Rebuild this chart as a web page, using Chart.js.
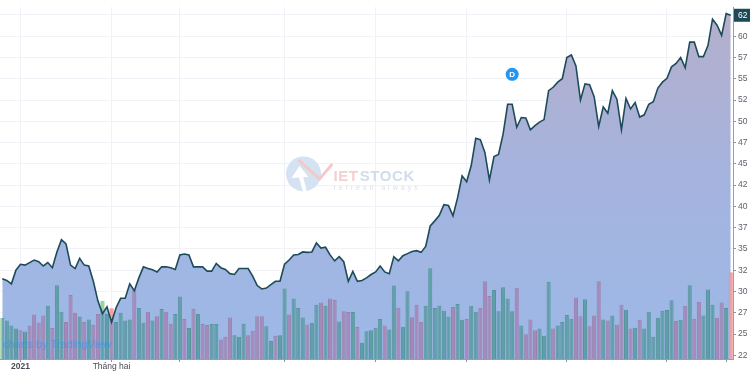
<!DOCTYPE html>
<html>
<head>
<meta charset="utf-8">
<script src="https://cdn.jsdelivr.net/npm/chart.js@4.4.0/dist/chart.umd.min.js"></script>
<style>
html,body{margin:0;padding:0;background:#fff;}
#wrap{width:750px;height:375px;position:relative;}
</style>
</head>
<body>
<div id="wrap"><canvas id="c" width="750" height="375"></canvas></div>
<script>
// ---- data ----
const price = [
 31.5,31.3,30.9,32.5,33.2,33.1,33.4,33.7,33.5,33.0,
 33.4,32.8,34.65,36.1,35.6,33.1,32.7,33.9,33.1,33.0,
 31.2,28.9,27.4,28.2,26.4,28.1,29.2,29.2,30.9,30.1,
 31.6,32.9,32.7,32.55,32.3,32.9,32.9,32.8,32.6,34.3,
 34.4,34.3,32.9,32.9,32.9,32.4,32.4,33.3,32.8,32.6,
 32.1,32.0,32.7,32.7,32.7,31.8,30.7,30.3,30.4,30.8,
 31.2,31.2,33.2,33.7,34.3,34.35,34.65,34.6,34.65,35.7,
 35.1,35.2,34.3,33.6,34.1,33.5,31.2,32.35,31.2,31.3,
 31.6,32.0,32.3,33.0,32.3,32.1,34.1,33.6,34.2,34.45,
 34.7,34.8,34.6,35.3,37.7,38.3,38.95,40.2,40.1,38.9,
 41.0,43.6,42.9,44.8,48.0,47.85,46.35,43.1,45.85,46.1,
 48.5,52.0,52.0,49.3,50.45,50.4,49.0,49.5,49.9,50.2,
 53.6,54.0,54.6,55.0,57.5,57.8,56.5,52.5,54.4,54.3,
 52.9,49.4,51.7,50.95,53.6,52.6,49.0,52.7,51.45,52.2,
 50.5,50.76,52.0,52.3,53.9,54.6,55.05,56.4,56.8,57.5,
 56.3,59.3,59.3,57.6,57.6,58.9,62.0,61.3,60.1,62.65,
 62.46
];
const volume = [
 41.7,39.3,34.3,31,29.3,28,34.3,45.3,37.3,44.3,
 54.3,31.7,75.3,48.3,37.7,65.3,47.3,43.3,37.7,40.3,
 35,46,59.3,46,51.7,37.7,47.3,39.3,40.3,71,
 52,37,48.3,39.3,43.7,51,48.3,36,46,63.7,
 40.7,31.7,51.3,46,35.7,34.7,35.7,35.7,20,22.7,
 42.3,24.3,22.7,36,24.3,28.7,43.7,43.7,33.3,18.3,
 23.7,24.3,72,45.3,61.7,52,42.3,35.3,37,55.3,
 57.7,54.3,61.7,60.3,38.3,48.7,48,48,32.7,16.7,
 28.3,29.3,32,40.7,34.3,30,75,52.3,33,69,
 42.7,55.3,37.7,54.3,92.7,52,54.3,49.3,43.3,53,
 56,40,40.7,54.3,48.3,52.3,79.3,64.3,70.3,48.7,
 73.3,61.7,48.7,72.7,34.3,25.3,40.3,29.3,31,23.7,
 78.7,31,34.3,37.7,45,41,62.7,43.7,61,33.3,
 44.3,79.3,40.3,39.3,44.3,35.3,55.3,50.3,31,32,
 40,31,48.3,22.7,42,49.3,50,60,38.7,40,
 54.3,75.3,41,58.3,44.3,71,55.3,42,57.7,52,
 88.3
];
// 1 = up session, 0 = down session
const volumeUp = [
 1,1,1,1,0,1,0,0,0,0,
 1,0,1,1,0,0,0,1,0,1,
 0,0,1,1,0,1,1,1,1,0,
 1,1,0,1,0,1,0,0,1,1,
 0,1,0,1,0,0,1,1,0,0,
 0,1,1,1,0,0,0,0,1,1,
 0,1,1,0,1,1,1,0,1,1,
 0,1,0,0,1,0,0,1,0,1,
 1,1,1,1,0,1,1,0,1,1,
 0,0,0,1,1,1,1,1,1,0,
 1,1,0,1,1,0,0,0,1,1,
 1,1,1,0,1,0,0,0,1,1,
 1,0,1,1,1,1,0,0,1,0,
 0,0,1,0,1,0,0,1,0,1,
 0,1,1,1,1,1,1,1,0,1,
 0,1,0,0,1,1,1,0,0,1,
 0
];
const sessions = price.map((_, i) => String(i + 1));
const monthTickIdx = [4, 24, 39, 62, 82, 102, 124, 146, 159];
const monthTickLabels = ['2021', 'Tháng hai', '', '', '', '', '', '', ''];
const priceTickValues = [22.5,25,27.5,30,32.5,35,37.5,40,42.5,45,47.5,50,52.5,55,57.5,60,62.5];
const priceTickLabels = ['22','25','27','30','32','35','37','40','42','45','47','50','52','55','57','60','62'];
const priceMin = 22.07, priceMax = 63.42;
const volumeMax = 359;
const dividendIdx = [112];
const dividendLabel = ['D'];

// ---- styles ----
const FONT = '"Liberation Sans", Arial, sans-serif';
const upInArea = '#5f9fa7', downInArea = '#a489b9';
const upAbove = '#9fd2a0', downAbove = '#f4a0a0';
const lastIdx = price.length - 1;
const topBarColors = volumeUp.map((u, i) => i === lastIdx ? downAbove : (u ? upInArea : downInArea));
const topBarBorders = volumeUp.map((u, i) => i === lastIdx ? '#ec8f8f' : (u ? '#56949c' : '#9a80ad'));
const tipBarColors = volumeUp.map(u => u ? upAbove : downAbove);

const areaClip = {
  id: 'areaClip',
  beforeDatasetDraw(chart, args) {
    if (args.index !== 2) return;
    const pts = chart.getDatasetMeta(1).data;
    const b = chart.chartArea.bottom;
    const ctx = chart.ctx;
    ctx.save();
    ctx.beginPath();
    ctx.moveTo(pts[0].x, b);
    pts.forEach(p => ctx.lineTo(p.x, p.y));
    ctx.lineTo(pts[pts.length - 1].x, b);
    ctx.closePath();
    ctx.clip();
  },
  afterDatasetDraw(chart, args) {
    if (args.index !== 2) return;
    chart.ctx.restore();
  }
};

const decor = {
  id: 'decor',
  beforeDatasetsDraw(chart) {
    const ctx = chart.ctx, ca = chart.chartArea;
    const cx = (ca.left + ca.right) / 2, cy = ca.top + ca.height * 0.474;
    ctx.save();
    // watermark logo
    const lx = cx - 63, ly = cy;
    ctx.fillStyle = '#d4e2f1';
    ctx.beginPath(); ctx.arc(lx, ly, 17.5, 0, Math.PI * 2); ctx.fill();
    ctx.strokeStyle = '#ffffff'; ctx.lineWidth = 4; ctx.lineCap = 'round';
    ctx.beginPath(); ctx.moveTo(lx + 1, ly + 16); ctx.lineTo(lx - 3, ly + 1); ctx.stroke();
    ctx.fillStyle = '#ffffff';
    ctx.beginPath(); ctx.moveTo(lx - 12, ly + 4); ctx.lineTo(lx - 4, ly - 8); ctx.lineTo(lx + 5, ly + 3); ctx.closePath(); ctx.fill();
    ctx.strokeStyle = '#f3c9c9'; ctx.lineWidth = 3;
    ctx.beginPath(); ctx.moveTo(lx - 4, ly - 13); ctx.lineTo(lx + 16, ly + 5); ctx.lineTo(lx + 28, ly - 9); ctx.stroke();
    ctx.textBaseline = 'alphabetic';
    ctx.font = 'bold 15px ' + FONT;
    try { ctx.letterSpacing = '0.6px'; } catch (e) {}
    ctx.fillStyle = '#f4cfcf';
    ctx.fillText('IET', lx + 30, ly + 7);
    const w1 = ctx.measureText('IET').width;
    ctx.fillStyle = '#d0ddec';
    ctx.fillText('STOCK', lx + 31 + w1, ly + 7);
    ctx.font = '7px ' + FONT;
    try { ctx.letterSpacing = '3px'; } catch (e) {}
    ctx.fillStyle = '#dbe2ea';
    ctx.fillText('refresh always', lx + 30, ly + 16);
    try { ctx.letterSpacing = '0px'; } catch (e) {}
    ctx.restore();
  },
  afterDatasetsDraw(chart) {
    const ctx = chart.ctx, ca = chart.chartArea;
    const xs = chart.scales.x, ys = chart.scales.y;
    ctx.save();
    // dividend marker
    dividendIdx.forEach((di, k) => {
      const x = xs.getPixelForValue(di);
      const y = ys.getPixelForValue(price[di]) - 30;
      ctx.fillStyle = '#2196f3';
      ctx.beginPath(); ctx.arc(x, y, 6.5, 0, Math.PI * 2); ctx.fill();
      ctx.fillStyle = '#ffffff';
      ctx.font = 'bold 8px ' + FONT;
      ctx.textAlign = 'center'; ctx.textBaseline = 'middle';
      ctx.fillText(dividendLabel[k], x, y + 0.5);
    });
    // attribution
    ctx.textAlign = 'left'; ctx.textBaseline = 'alphabetic';
    ctx.font = '11px ' + FONT;
    ctx.fillStyle = 'rgba(33,150,243,0.55)';
    ctx.fillText('charts by TradingView', ca.left + 3, ca.bottom - 11);
    ctx.restore();
  },
  afterDraw(chart) {
    const ctx = chart.ctx, ca = chart.chartArea, ys = chart.scales.y;
    const last = price[lastIdx];
    const y = ys.getPixelForValue(last);
    ctx.save();
    ctx.fillStyle = '#1d4a58';
    ctx.fillRect(ca.right + 1, y - 6.5, chart.width - ca.right - 1, 13);
    ctx.fillStyle = '#ffffff';
    ctx.font = '8.5px ' + FONT;
    ctx.textAlign = 'left'; ctx.textBaseline = 'middle';
    ctx.fillText(String(Math.floor(last)), ca.right + 5, y + 0.5);
    ctx.restore();
  }
};

function areaGradient(ctx) {
  const chart = ctx.chart, ca = chart.chartArea;
  if (!ca) return '#a3b6e0';
  const g = chart.ctx.createLinearGradient(0, ca.top, 0, ca.bottom);
  g.addColorStop(0, '#b5afcb');
  g.addColorStop(0.5, '#a4b3de');
  g.addColorStop(1, '#9cb9e8');
  return g;
}

new Chart(document.getElementById('c'), {
  data: {
    labels: sessions,
    datasets: [
      { type: 'bar', data: volume, yAxisID: 'yv', backgroundColor: tipBarColors, borderWidth: 0,
        grouped: false, barPercentage: 0.9, categoryPercentage: 1, order: 3 },
      { type: 'line', data: price, yAxisID: 'y', fill: 'start', backgroundColor: areaGradient,
        borderWidth: 0, pointRadius: 0, tension: 0, order: 2 },
      { type: 'bar', data: volume, yAxisID: 'yv', backgroundColor: topBarColors, borderColor: topBarBorders,
        borderWidth: 1, grouped: false, barPercentage: 0.9, categoryPercentage: 1, order: 1 },
      { type: 'line', data: price, yAxisID: 'y', fill: false, borderColor: '#1e4b59', borderWidth: 1.6,
        pointRadius: 0, tension: 0, order: 0 }
    ]
  },
  options: {
    responsive: false,
    devicePixelRatio: 1,
    animation: false,
    layout: { padding: 0 },
    plugins: { legend: { display: false }, tooltip: { enabled: false } },
    scales: {
      x: {
        type: 'category',
        offset: true,
        afterBuildTicks: s => { s.ticks = monthTickIdx.map(v => ({ value: v })); },
        afterFit: s => { s.height = 16; },
        grid: { display: true, offset: false, color: '#f0f2f7', tickLength: 3, tickColor: '#8f929b' },
        border: { display: true, color: '#9a9da6' },
        ticks: {
          autoSkip: false, maxRotation: 0, minRotation: 0, padding: 0,
          color: '#4a4d56',
          font: c => ({ family: FONT, size: 8.5, weight: c.index === 0 ? 'bold' : 'normal' }),
          callback: (v, i) => monthTickLabels[i]
        }
      },
      y: {
        position: 'right',
        min: priceMin, max: priceMax,
        afterBuildTicks: s => { s.ticks = priceTickValues.map(v => ({ value: v })); },
        afterFit: s => { s.width = 17; },
        grid: { color: '#f0f2f7', tickLength: 3, tickColor: '#8f929b' },
        border: { display: true, color: '#9a9da6' },
        ticks: { padding: 2, color: '#5d606b', font: { family: FONT, size: 8.5 },
          callback: (v, i) => priceTickLabels[i] }
      },
      yv: { display: false, min: 0, max: volumeMax }
    }
  },
  plugins: [areaClip, decor]
});
</script>
</body>
</html>
